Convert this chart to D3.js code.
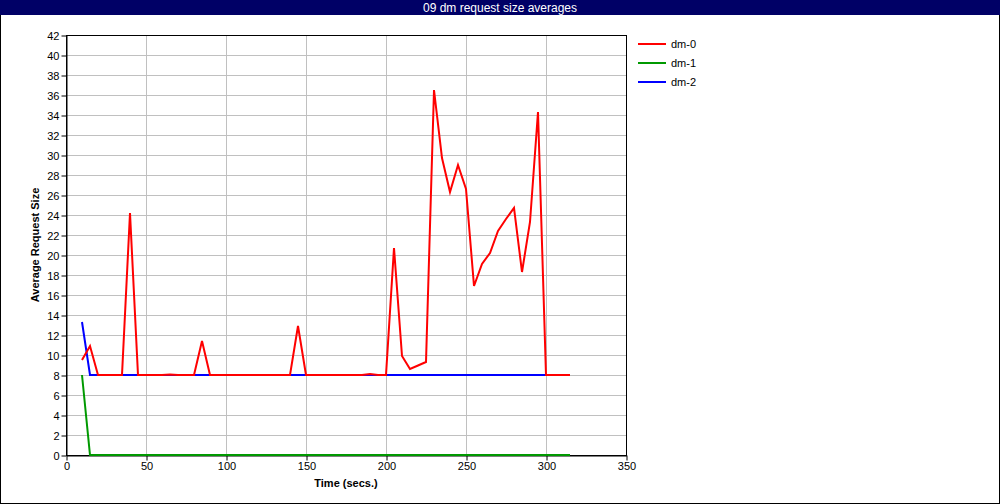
<!DOCTYPE html>
<html>
<head>
<meta charset="utf-8">
<script src="https://cdn.jsdelivr.net/npm/d3@7"></script>
<style>
  html, body { margin: 0; padding: 0; background: #fff; }
  svg { display: block; }
  text { font-family: "Liberation Sans", Arial, sans-serif; }
</style>
</head>
<body>
<svg id="chart" width="1000" height="504"></svg>
<script>
const title = "09 dm request size averages";
const xLabel = "Time (secs.)";
const yLabel = "Average Request Size";
const seriesNames = ["dm-0", "dm-1", "dm-2"];
const seriesColors = ["#ff0000", "#009900", "#0000ff"];
const times = [10,15,20,25,30,35,40,45,50,55,60,65,70,75,80,85,90,95,100,105,110,115,120,125,130,135,140,145,150,155,160,165,170,175,180,185,190,195,200,205,210,215,220,225,230,235,240,245,250,255,260,265,270,275,280,285,290,295,300,305,310,315];
const dm0 = [9.5,10.9,8,8,8,8,24.2,8,8,8,8,8.05,8,8,8,11.4,8,8,8,8,8,8,8,8,8,8,8,12.9,8,8,8,8,8,8,8,8,8.1,8,8,20.7,9.9,8.6,8.95,9.3,36.5,29.7,26.3,29.0,26.6,16.9,19.1,20.2,22.4,23.6,24.7,18.3,23.3,34.3,8,8,8,8];
const dm1 = [8,0,0,0,0,0,0,0,0,0,0,0,0,0,0,0,0,0,0,0,0,0,0,0,0,0,0,0,0,0,0,0,0,0,0,0,0,0,0,0,0,0,0,0,0,0,0,0,0,0,0,0,0,0,0,0,0,0,0,0,0,0];
const dm2 = [13.3,8,8,8,8,8,8,8,8,8,8,8,8,8,8,8,8,8,8,8,8,8,8,8,8,8,8,8,8,8,8,8,8,8,8,8,8,8,8,8,8,8,8,8,8,8,8,8,8,8,8,8,8,8,8,8,8,8,8,8,8,8];
const xTicks = [0,50,100,150,200,250,300,350];
const yTicks = [0,2,4,6,8,10,12,14,16,18,20,22,24,26,28,30,32,34,36,38,40,42];

(function () {
const svg = d3.select("#chart");
const W = 1000, H = 504;
const pL = 66, pR = 626, pT = 35, pB = 455;

// outer border
svg.append("rect").attr("x", 0.5).attr("y", 0.5).attr("width", W - 1).attr("height", H - 1)
  .attr("fill", "#fff").attr("stroke", "#000");
// title bar
svg.append("rect").attr("x", 0).attr("y", 0).attr("width", W).attr("height", 15).attr("fill", "#000066");
svg.append("text").attr("x", 500).attr("y", 11.5).attr("text-anchor", "middle")
  .attr("fill", "#fff").attr("font-size", 12).text(title);

const x = d3.scaleLinear().domain([0, 350]).range([pL, pR]);
const y = d3.scaleLinear().domain([0, 42]).range([pB, pT]);

// grid
const g = svg.append("g");
g.selectAll("line.gx").data(xTicks.slice(1, -1)).enter().append("line")
  .attr("x1", d => x(d) + 0.5).attr("x2", d => x(d) + 0.5)
  .attr("y1", pT).attr("y2", pB).attr("stroke", "#c0c0c0");
g.selectAll("line.gy").data(yTicks.slice(1, -1)).enter().append("line")
  .attr("y1", d => y(d) + 0.5).attr("y2", d => y(d) + 0.5)
  .attr("x1", pL).attr("x2", pR).attr("stroke", "#c0c0c0");

// frame
svg.append("rect").attr("x", pL + 0.5).attr("y", pT + 0.5)
  .attr("width", pR - pL).attr("height", pB - pT)
  .attr("fill", "none").attr("stroke", "#000");

// axes
const xAxis = svg.append("g").attr("transform", `translate(0.5,${pB + 0.5})`)
  .call(d3.axisBottom(x).tickValues(xTicks).tickSize(5).tickPadding(2).tickSizeOuter(0));
const yAxis = svg.append("g").attr("transform", `translate(${pL + 0.5},0.5)`)
  .call(d3.axisLeft(y).tickValues(yTicks).tickSize(5).tickPadding(2).tickSizeOuter(0));
[xAxis, yAxis].forEach(a => {
  a.select(".domain").attr("stroke", "#000");
  a.selectAll(".tick line").attr("stroke", "#000");
  a.selectAll("text").attr("font-size", 11).attr("fill", "#000")
    .attr("font-family", "'Liberation Sans', Arial, sans-serif");
});

// axis labels
svg.append("text").attr("x", (pL + pR) / 2).attr("y", 487).attr("text-anchor", "middle")
  .attr("font-size", 11).attr("font-weight", "bold").text(xLabel);
svg.append("text").attr("transform", `translate(39,${(pT + pB) / 2}) rotate(-90)`)
  .attr("text-anchor", "middle").attr("font-size", 11).attr("font-weight", "bold").text(yLabel);

// lines
const allSeries = [dm0, dm1, dm2];
const line = d3.line().x((d, i) => x(times[i])).y(d => y(d));
const drawOrder = [1, 2, 0];
drawOrder.forEach(k => {
  svg.append("path").datum(allSeries[k]).attr("d", line)
    .attr("fill", "none").attr("stroke", seriesColors[k]).attr("stroke-width", 2)
    .attr("stroke-linejoin", "miter");
});

// legend
const leg = svg.append("g");
seriesNames.forEach((name, i) => {
  const ly = 44 + i * 19;
  leg.append("line").attr("x1", 638).attr("x2", 666).attr("y1", ly).attr("y2", ly)
    .attr("stroke", seriesColors[i]).attr("stroke-width", 2);
  leg.append("text").attr("x", 671).attr("y", ly + 4).attr("font-size", 11).text(name);
});
})();
</script>
</body>
</html>
